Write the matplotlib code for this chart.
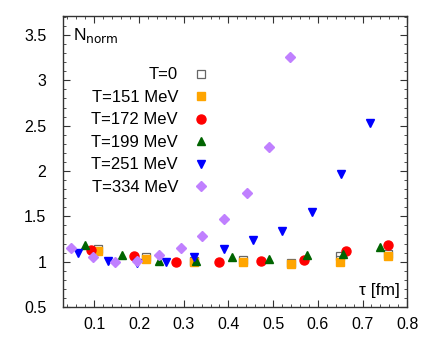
import matplotlib
matplotlib.use("Agg")
import matplotlib.pyplot as plt
from matplotlib.ticker import MultipleLocator

plt.rcParams['font.family'] = ['Liberation Sans', 'DejaVu Sans']

# Data (tau in fm, N_norm)
tau_0 = [0.109, 0.216, 0.324, 0.432, 0.541, 0.650, 0.758]
n_0 = [1.14, 1.05, 1.01, 1.02, 0.99, 1.06, 1.08]

tau_151 = [0.109, 0.216, 0.324, 0.432, 0.541, 0.650, 0.758]
n_151 = [1.12, 1.03, 1.00, 1.00, 0.97, 1.00, 1.06]

tau_172 = [0.093, 0.188, 0.283, 0.378, 0.473, 0.568, 0.663, 0.758]
n_172 = [1.13, 1.06, 1.00, 1.00, 1.01, 1.02, 1.12, 1.18]

tau_199 = [0.080, 0.163, 0.245, 0.327, 0.409, 0.491, 0.575, 0.657, 0.739]
n_199 = [1.18, 1.07, 1.01, 1.01, 1.05, 1.03, 1.07, 1.08, 1.16]

tau_251 = [0.063, 0.130, 0.195, 0.260, 0.324, 0.390, 0.456, 0.521, 0.587, 0.652, 0.717]
n_251 = [1.10, 1.01, 0.99, 1.00, 1.05, 1.14, 1.24, 1.34, 1.55, 1.97, 2.53]

tau_334 = [0.048, 0.096, 0.146, 0.195, 0.244, 0.294, 0.342, 0.391, 0.441, 0.490, 0.538]
n_334 = [1.15, 1.05, 1.00, 1.01, 1.07, 1.15, 1.28, 1.47, 1.76, 2.26, 3.26]

labels = ["T=0", "T=151 MeV", "T=172 MeV", "T=199 MeV", "T=251 MeV", "T=334 MeV"]

fig = plt.figure(figsize=(4.36, 3.39), dpi=100)
ax = fig.add_axes([0.1445, 0.0944, 0.7895, 0.8584])

h0, = ax.plot(tau_0, n_0, linestyle='none', marker='s', ms=5.5, mfc='white',
              mec='#666666', mew=0.9, label=labels[0], zorder=2)
ax.plot(tau_0, n_0, linestyle='none', marker='_', ms=5.5, mec='#666666', mew=0.9, zorder=2)
ax.plot(tau_151, n_151, linestyle='none', marker='s', ms=5.5, color='#FFA500',
        label=labels[1], zorder=3)
ax.plot(tau_172, n_172, linestyle='none', marker='o', ms=6.5, color='#FF0000',
        label=labels[2], zorder=3)
ax.plot(tau_199, n_199, linestyle='none', marker='^', ms=6, color='#006400',
        label=labels[3], zorder=3)
ax.plot(tau_251, n_251, linestyle='none', marker='v', ms=6, color='#0000FF',
        label=labels[4], zorder=3)
ax.plot(tau_334, n_334, linestyle='none', marker='D', ms=4.8, color='#C080FF',
        label=labels[5], zorder=3)

ax.set_xlim(0.03, 0.8)
ax.set_ylim(0.5, 3.71)
ax.xaxis.set_minor_locator(MultipleLocator(0.02))
ax.yaxis.set_minor_locator(MultipleLocator(0.1))
ax.set_xticks([0.1, 0.2, 0.3, 0.4, 0.5, 0.6, 0.7, 0.8])
ax.set_xticklabels(["0.1", "0.2", "0.3", "0.4", "0.5", "0.6", "0.7", "0.8"])
ax.set_yticks([0.5, 1, 1.5, 2, 2.5, 3, 3.5])
ax.set_yticklabels(["0.5", "1", "1.5", "2", "2.5", "3", "3.5"])
ax.tick_params(which='both', direction='in', top=True, right=True, labelsize=11.5,
               color='#333333')
ax.tick_params(which='major', length=5, width=0.8)
ax.tick_params(which='minor', length=2.5, width=0.6)
ax.tick_params(axis='y', which='major', pad=12)
ax.tick_params(axis='x', which='major', pad=7)
for s in ax.spines.values():
    s.set_color('#333333')
    s.set_linewidth(1.0)

ax.text(0.03, 0.965, r"N$_{\mathrm{norm}}$", transform=ax.transAxes, ha='left', va='top',
        fontsize=12.5)
ax.text(0.98, 0.03, "τ [fm]", transform=ax.transAxes, ha='right', va='bottom',
        fontsize=12.5)

ax.legend(loc='upper right', bbox_to_anchor=(0.448, 0.852), frameon=False, markerfirst=False,
          fontsize=12, handlelength=1.0, handletextpad=0.85, labelspacing=0.45,
          borderpad=0, alignment='right')

fig.savefig("out.png", dpi=100)
